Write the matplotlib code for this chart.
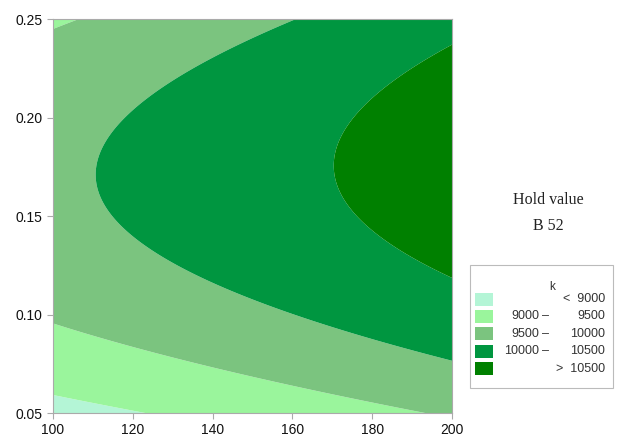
import numpy as np
import matplotlib.pyplot as plt
from matplotlib.patches import Rectangle

# contour levels and colours (k)
levels = [9000, 9500, 10000, 10500]
colores = ['#b4f5d6', '#9af59c', '#7bc47f', '#009640', '#008000']
etiquetas_izq = ['', '9000', '9500', '10000', '']
etiquetas_sep = ['', '–', '–', '–', '']
etiquetas_der = ['<  9000', '9500', '10000', '10500', '>  10500']

c9000_x = [100, 107.5, 120]
c9000_y = [0.0602, 0.0556, 0.05]
c9500_x = [100, 120, 140.1, 161.9, 166.9, 178.7, 189.5, 100, 106.5]
c9500_y = [0.0962, 0.0835, 0.0733, 0.0632, 0.0617, 0.0566, 0.05, 0.244, 0.25]
c10000_x = [160.2, 136.8, 120, 111.8, 111.3, 111.8, 120, 136.8, 149.4, 166.9, 199.5]
c10000_y = [0.25, 0.2256, 0.2053, 0.1835, 0.1718, 0.148, 0.138, 0.1226, 0.109, 0.0957, 0.077]
c10500_x = [200, 182.7, 171.9, 169.4, 176.2, 187, 199.5]
c10500_y = [0.236, 0.2155, 0.192, 0.175, 0.148, 0.134, 0.119]

# ajuste de superficie cuadratica (como el modelo de Minitab) a los puntos leidos
xs, ys, ks = [], [], []
for lx, ly, nivel in [(c9000_x, c9000_y, 9000), (c9500_x, c9500_y, 9500),
                      (c10000_x, c10000_y, 10000), (c10500_x, c10500_y, 10500)]:
    xs += lx
    ys += ly
    ks += [nivel] * len(lx)
u = (np.array(xs) - 150) / 50
v = (np.array(ys) - 0.15) / 0.1
A = np.column_stack([np.ones_like(u), u, v, u**2, v**2, u*v])
coef, *_ = np.linalg.lstsq(A, np.array(ks), rcond=None)

gx = np.linspace(100, 200, 300)
gy = np.linspace(0.05, 0.25, 300)
X, Y = np.meshgrid(gx, gy)
U = (X - 150) / 50
V = (Y - 0.15) / 0.1
Z = coef[0] + coef[1]*U + coef[2]*V + coef[3]*U**2 + coef[4]*V**2 + coef[5]*U*V

fig = plt.figure(figsize=(6.27, 4.42), dpi=100)
ax = fig.add_axes([0.0845, 0.0656, 0.6364, 0.8914])
ax.contourf(X, Y, Z, levels=[-1e9] + levels + [1e9], colors=colores, antialiased=True)
ax.set_xlim(100, 200)
ax.set_ylim(0.05, 0.25)
ax.set_xticks([100, 120, 140, 160, 180, 200])
ax.set_yticks([0.05, 0.10, 0.15, 0.20, 0.25])
ax.set_yticklabels(['0.05', '0.10', '0.15', '0.20', '0.25'])
ax.tick_params(colors='#aaaaaa', labelcolor='#111111', labelsize=10, length=4, width=0.8)
for lab in ax.get_xticklabels() + ax.get_yticklabels():
    lab.set_family('Liberation Sans')
for s in ax.spines.values():
    s.set_color('#aaaaaa')
    s.set_linewidth(0.8)

fig.text(548/627, 1 - 200/442, 'Hold value', family='Liberation Serif', fontsize=11.5,
         ha='center', va='center', color='#222222')
fig.text(548/627, 1 - 226/442, 'B 52', family='Liberation Serif', fontsize=11.5,
         ha='center', va='center', color='#222222')

# leyenda dibujada a mano
fig.patches.append(Rectangle((470/627, 1 - 388/442), 143/627, 123/442, transform=fig.transFigure,
                             facecolor='white', edgecolor='#bbbbbb', linewidth=0.8))
fig.text(552/627, 1 - 287/442, 'k', family='Liberation Sans', fontsize=8.5,
         ha='center', va='center', color='#333333')
for i in range(5):
    yc = 1 - (299 + i*17.4)/442
    fig.patches.append(Rectangle((475/627, yc - 6.5/442), 18/627, 13/442, transform=fig.transFigure,
                                 facecolor=colores[i], edgecolor='none'))
    fig.text(539/627, yc, etiquetas_izq[i], family='Liberation Sans', fontsize=9,
             ha='right', va='center', color='#333333')
    fig.text(546/627, yc, etiquetas_sep[i], family='Liberation Sans', fontsize=9,
             ha='center', va='center', color='#333333')
    fig.text(605/627, yc, etiquetas_der[i], family='Liberation Sans', fontsize=9,
             ha='right', va='center', color='#333333')

plt.savefig('out.png', dpi=100)
